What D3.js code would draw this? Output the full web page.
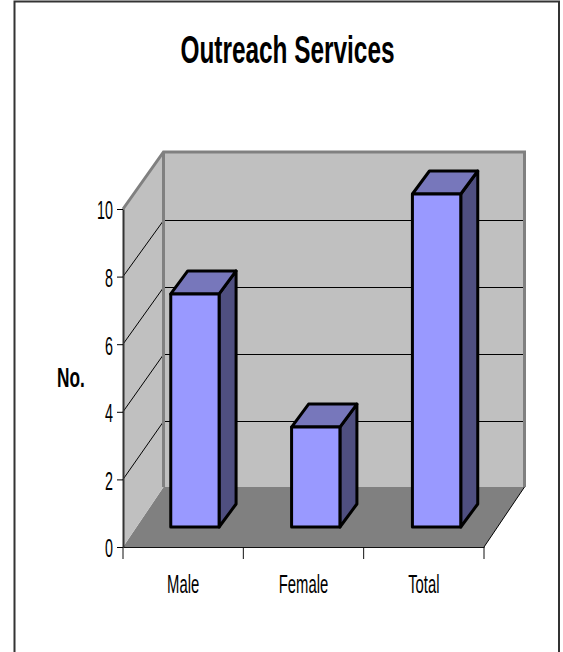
<!DOCTYPE html>
<html lang="en">
<head>
  <meta charset="UTF-8">
  <title>Outreach Services</title>
  <script src="https://d3js.org/d3.v7.min.js"></script>
  <style>
    html, body { margin: 0; padding: 0; background: #fff; }
    svg { display: block; }
    text { font-family: "Liberation Sans", Arial, sans-serif; fill: #000; }
  </style>
</head>
<body>
  <div id="chart"></div>

  <script>
    const categories = ["Male", "Female", "Total"];
    const values = [7, 3, 10];
    const yTicks = [0, 2, 4, 6, 8, 10];

    const width = 563;
    const height = 652;

    // front plane of the box, back plane is shifted by depthX
    const depthX = 40.5;
    const y = d3.scaleLinear().domain([0, 10]).range([547, 209]);
    const yBack = d3.scaleLinear().domain([0, 10]).range([487, 152]);
    const x = d3.scaleBand().domain(categories).range([123, 484]);
    // bars stand halfway into the box
    const xBar = d3.scaleBand().domain(categories).range([134.5, 497]).paddingInner(0.6).paddingOuter(0.3);
    const yBar = d3.scaleLinear().domain([0, 10]).range([527, 194]);
    const barDx = 17;
    const barDy = 23;

    const svg = d3.select("#chart").append("svg")
      .attr("width", width)
      .attr("height", height);

    // the reference text is squeezed horizontally
    function squeeze(sel, k) {
      sel.each(function() {
        this.setAttribute("textLength", this.getComputedTextLength() * k);
        this.setAttribute("lengthAdjust", "spacingAndGlyphs");
      });
    }

    // outer frame, open at the bottom
    svg.append("path")
      .attr("d", `M14.5,${height}V1.5H559V${height}`)
      .attr("fill", "none")
      .attr("stroke", "#333")
      .attr("stroke-width", 2);

    const x0 = x.range()[0], x1 = x.range()[1];

    // floor and walls
    svg.append("path")
      .attr("d", `M${x0},${y(0)}L${x0 + depthX},${yBack(0)}H${x1 + depthX}L${x1},${y(0)}Z`)
      .attr("fill", "#808080");
    svg.append("path")
      .attr("d", `M${x0},${y(0)}V${y(10)}L${x0 + depthX},${yBack(10)}V${yBack(0)}Z`)
      .attr("fill", "#c0c0c0");
    svg.append("rect")
      .attr("x", x0 + depthX)
      .attr("y", yBack(10))
      .attr("width", x1 - x0)
      .attr("height", yBack(0) - yBack(10))
      .attr("fill", "#c0c0c0");

    // gridlines
    const inner = yTicks.filter(t => t > 0 && t < 10);
    svg.selectAll(".grid-back").data(inner).enter().append("line")
      .attr("class", "grid-back")
      .attr("x1", x0 + depthX).attr("x2", x1 + depthX)
      .attr("y1", d => yBack(d) + 1.5).attr("y2", d => yBack(d) + 1.5)
      .attr("stroke", "#000").attr("stroke-width", 1);
    svg.selectAll(".grid-side").data(inner).enter().append("line")
      .attr("class", "grid-side")
      .attr("x1", x0).attr("x2", x0 + depthX)
      .attr("y1", d => y(d)).attr("y2", d => yBack(d) + 1.5)
      .attr("stroke", "#000").attr("stroke-width", 1);

    // gray wall edges
    svg.append("path")
      .attr("d", `M${x0},${y(10)}L${x0 + depthX},${yBack(10)}H${x1 + depthX}V${yBack(0)}`)
      .attr("fill", "none").attr("stroke", "#808080").attr("stroke-width", 3);
    svg.append("line")
      .attr("x1", x0 + depthX).attr("x2", x0 + depthX)
      .attr("y1", yBack(10)).attr("y2", yBack(0))
      .attr("stroke", "#808080").attr("stroke-width", 3);
    svg.append("line")
      .attr("x1", x1).attr("x2", x1 + depthX)
      .attr("y1", y(0)).attr("y2", yBack(0))
      .attr("stroke", "#000").attr("stroke-width", 1);

    // bars
    const bar = svg.selectAll(".bar")
      .data(categories.map((c, i) => ({ c, v: values[i] })))
      .enter().append("g")
      .attr("class", "bar")
      .attr("stroke", "#000")
      .attr("stroke-width", 3)
      .attr("stroke-linejoin", "round");

    bar.append("path") // side
      .attr("fill", "#4f4f80")
      .attr("d", d => {
        const r = xBar(d.c) + xBar.bandwidth();
        return `M${r},${yBar(d.v)}l${barDx},${-barDy}V${yBar(0) - barDy}L${r},${yBar(0)}Z`;
      });
    bar.append("path") // top
      .attr("fill", "#7777bb")
      .attr("d", d => `M${xBar(d.c)},${yBar(d.v)}l${barDx},${-barDy}h${xBar.bandwidth()}l${-barDx},${barDy}Z`);
    bar.append("rect") // front
      .attr("fill", "#9999ff")
      .attr("x", d => xBar(d.c))
      .attr("y", d => yBar(d.v))
      .attr("width", xBar.bandwidth())
      .attr("height", d => yBar(0) - yBar(d.v));

    // axes
    const yAxis = svg.append("g")
      .attr("transform", `translate(${x0},0)`)
      .call(d3.axisLeft(y).tickValues(yTicks).tickSize(6).tickPadding(4).tickSizeOuter(0));
    yAxis.select(".domain").attr("stroke", "#333").attr("stroke-width", 2);
    yAxis.selectAll(".tick line").attr("stroke", "#000");
    yAxis.selectAll("text")
      .attr("dy", "0.38em")
      .style("font-family", '"Liberation Sans", Arial, sans-serif')
      .style("font-size", "26px")
      .call(squeeze, 0.55);

    const xAxis = svg.append("g")
      .attr("transform", `translate(0,${y(0)})`)
      .call(d3.axisBottom(x).tickSize(0).tickPadding(28));
    xAxis.select(".domain").attr("stroke", "#111").attr("stroke-width", 1.2);
    xAxis.selectAll("text")
      .style("font-family", '"Liberation Sans", Arial, sans-serif')
      .style("font-size", "26px")
      .call(squeeze, 0.57);
    // separators sit between the categories, so they come from the band edges
    svg.selectAll(".sep")
      .data(categories.map(c => x(c)).concat([x1]))
      .enter().append("line")
      .attr("class", "sep")
      .attr("x1", d => d).attr("x2", d => d)
      .attr("y1", y(0)).attr("y2", y(0) + 12)
      .attr("stroke", "#111").attr("stroke-width", 1);

    // titles
    svg.append("text")
      .attr("x", 287.5)
      .attr("y", 63)
      .attr("text-anchor", "middle")
      .style("font-size", "39px")
      .style("font-weight", "bold")
      .text("Outreach Services")
      .call(squeeze, 0.625);

    svg.append("text")
      .attr("x", 71)
      .attr("y", 387)
      .attr("text-anchor", "middle")
      .style("font-size", "27px")
      .style("font-weight", "bold")
      .text("No.")
      .call(squeeze, 0.64);
  </script>
</body>
</html>
